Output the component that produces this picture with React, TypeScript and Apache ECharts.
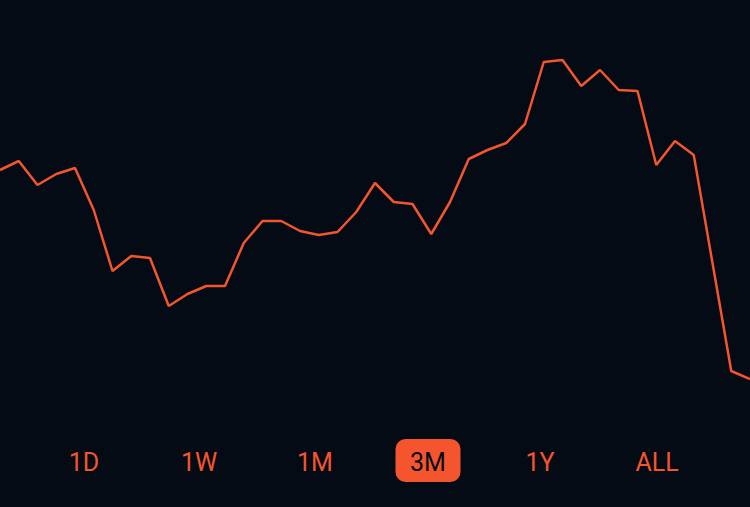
import React, { useEffect, useRef } from "react";
import * as echarts from "echarts";

const days: string[] = Array.from({ length: 41 }, (_, i) => `D${i + 1}`);
const prices: number[] = [
  230, 239, 215, 226, 232, 190, 129, 144, 142, 94, 106, 114, 114, 157, 179, 179,
  169, 165, 168, 188, 217, 198, 196, 166, 198, 241, 250, 257, 276, 338, 340, 314,
  330, 310, 309, 235, 259, 245, 137, 29, 21,
];
const ranges: string[] = ["1D", "1W", "1M", "3M", "1Y", "ALL"];
const activeRange = "3M";
const rangeCenters: number[] = [84, 199, 315, 428, 540, 657];

const BG = "#050b14";
const ORANGE = "#f4552f";

export default function App() {
  const ref = useRef<HTMLDivElement>(null);
  useEffect(() => {
    if (!ref.current) return;
    const chart = echarts.init(ref.current, undefined, { renderer: "svg" });
    const graphics: any[] = [];
    ranges.forEach((r, i) => {
      const cx = rangeCenters[i];
      const active = r === activeRange;
      if (active) {
        graphics.push({
          type: "rect",
          shape: { x: cx - 32.5, y: 439, width: 65, height: 43, r: 10 },
          style: { fill: ORANGE },
        });
      }
      graphics.push({
        type: "text",
        x: cx,
        y: 462,
        style: {
          text: r,
          fill: active ? BG : ORANGE,
          font: "400 25px Roboto",
          textAlign: "center",
          textVerticalAlign: "middle",
        },
      });
    });
    chart.setOption({
      animation: false,
      backgroundColor: BG,
      grid: { left: 0, right: 0, top: 40, bottom: 107 },
      xAxis: {
        type: "category",
        data: days,
        boundaryGap: false,
        show: false,
      },
      yAxis: {
        type: "value",
        min: 0,
        max: 360,
        show: false,
      },
      series: [
        {
          type: "line",
          data: prices,
          symbol: "none",
          lineStyle: { color: ORANGE, width: 2.5 },
        },
      ],
      graphic: graphics,
    });
    return () => chart.dispose();
  }, []);
  return (
    <div
      ref={ref}
      style={{ position: "fixed", left: 0, top: 0, width: 750, height: 507 }}
    />
  );
}
